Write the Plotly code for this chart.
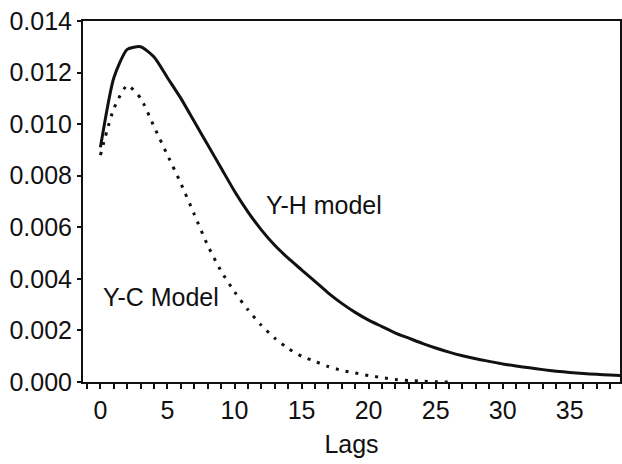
import plotly.graph_objects as go

lags_yh = list(range(0, 40))
yh_values = [0.0091, 0.0118, 0.0129, 0.0130, 0.0126, 0.0118, 0.0110, 0.0101, 0.0092, 0.0083,
             0.0074, 0.0066, 0.0059, 0.0053, 0.0048, 0.00435, 0.0039, 0.00345, 0.00305, 0.0027,
             0.0024, 0.00215, 0.0019, 0.0017, 0.0015, 0.00132, 0.00116, 0.00102, 0.0009, 0.0008,
             0.0007, 0.00062, 0.00055, 0.00048, 0.00042, 0.00037, 0.00033, 0.00030, 0.00027, 0.00025]

lags_yc = list(range(0, 27))
yc_values = [0.0088, 0.0106, 0.0115, 0.0110, 0.0099, 0.0088, 0.0077, 0.0065, 0.0053, 0.0043,
             0.0035, 0.0028, 0.0022, 0.0017, 0.0013, 0.0010, 0.0008, 0.0006, 0.00045, 0.00035,
             0.00025, 0.00017, 0.0001, 0.00006, 0.00003, 0.00001, 0.0]

x_tickvals = [0, 5, 10, 15, 20, 25, 30, 35]
y_tickvals = [0.000, 0.002, 0.004, 0.006, 0.008, 0.010, 0.012, 0.014]

FONT = "Liberation Sans, Arial, Helvetica, sans-serif"

fig = go.Figure()
fig.add_trace(go.Scatter(x=lags_yc, y=yc_values, mode="lines",
                         line=dict(color="#111", width=3, dash="3px,7px", shape="spline", smoothing=0.6),
                         cliponaxis=True, showlegend=False))
fig.add_trace(go.Scatter(x=lags_yh, y=yh_values, mode="lines",
                         line=dict(color="#111", width=3, shape="spline", smoothing=0.6),
                         cliponaxis=True, showlegend=False))

fig.add_annotation(x=16.7, y=0.00685, text="Y-H model", showarrow=False,
                   font=dict(size=25, color="#111", family=FONT))
fig.add_annotation(x=4.5, y=0.00328, text="Y-C Model", showarrow=False,
                   font=dict(size=25, color="#111", family=FONT))

fig.update_layout(
    width=622, height=464,
    margin=dict(l=83, r=2, t=21, b=82),
    paper_bgcolor="white", plot_bgcolor="white",
    font=dict(family=FONT, size=25, color="#111"),
    xaxis=dict(range=[-1.3, 38.75], tickvals=x_tickvals, ticks="outside", ticklen=5,
               tickwidth=1.5, tickcolor="#111", showgrid=False, zeroline=False,
               showline=True, linewidth=2, linecolor="#111", mirror=True, automargin=False,
               minor=dict(dtick=1, tick0=0, ticks="outside", ticklen=5, tickwidth=1.5,
                          tickcolor="#111", showgrid=False),
               title=dict(text="Lags", standoff=12, font=dict(size=25)), tickfont=dict(size=25)),
    yaxis=dict(range=[0, 0.014], tickvals=y_tickvals, tickformat=".3f", ticks="outside",
               ticklen=4, tickwidth=1.5, tickcolor="#111", showgrid=False, zeroline=False,
               showline=True, linewidth=2, linecolor="#111", mirror=True, automargin=False,
               tickfont=dict(size=25)),
)

fig.write_html("out.html", config={"displayModeBar": False},
               post_script="document.body.style.margin='0';document.body.style.overflow='hidden';")
